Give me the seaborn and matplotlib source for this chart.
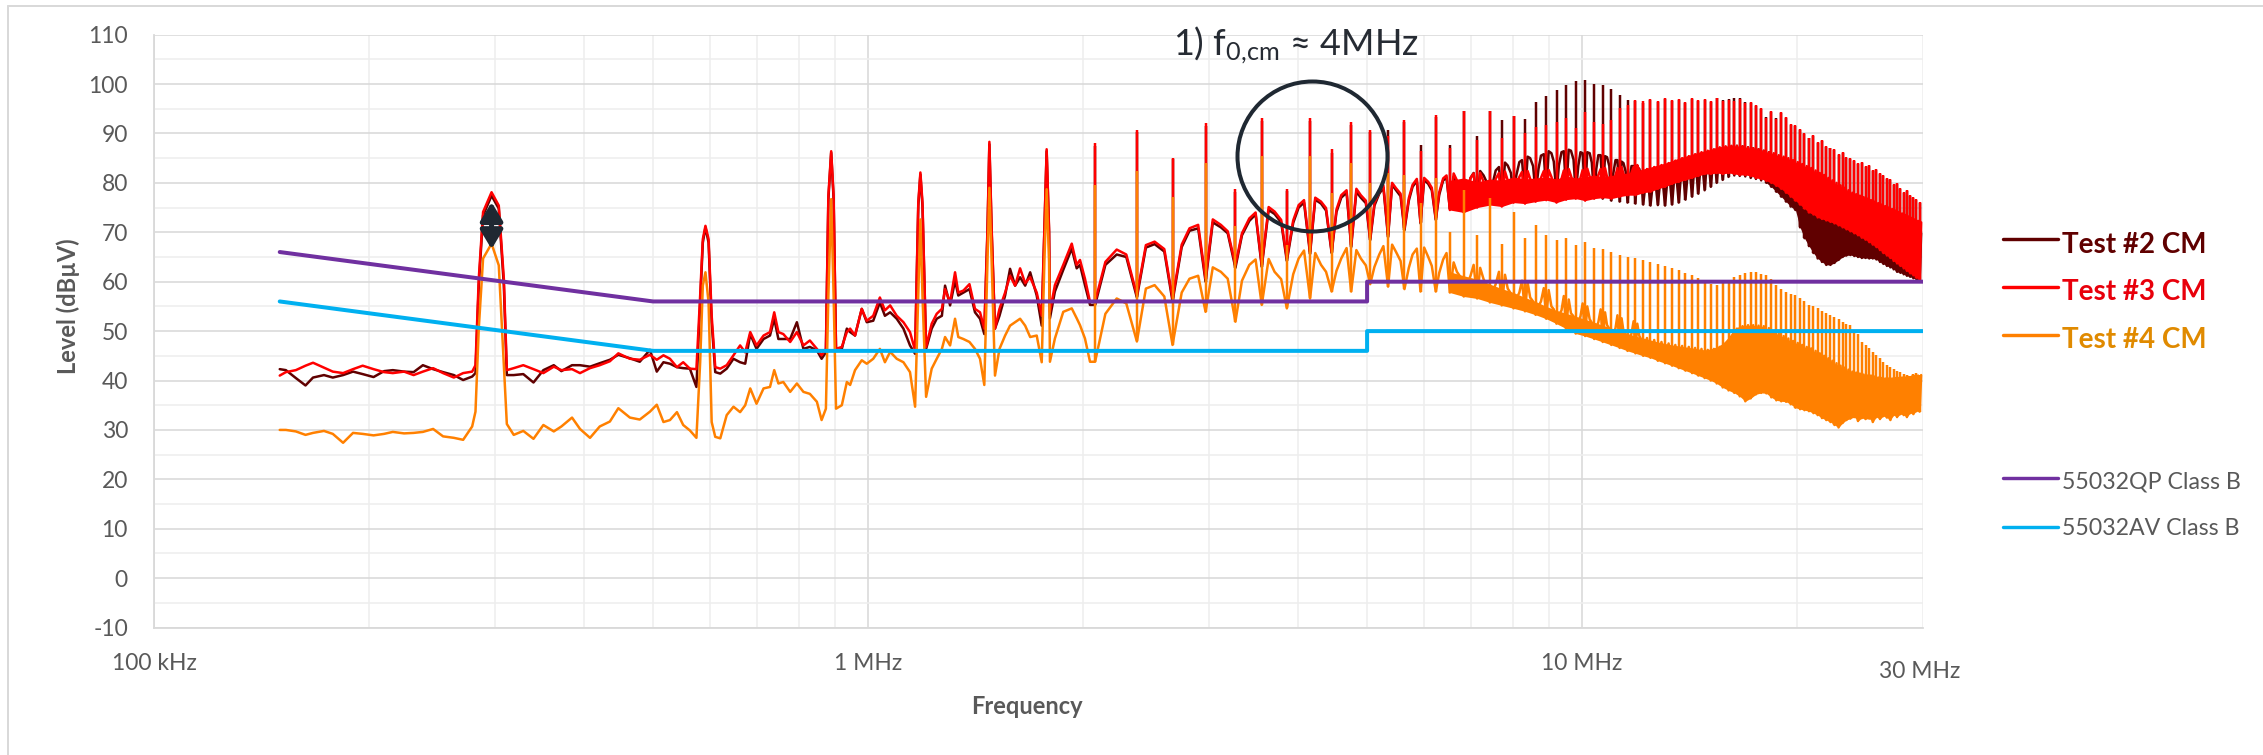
import numpy as np
import pandas as pd
import matplotlib
matplotlib.use("Agg")
import matplotlib.pyplot as plt
import seaborn as sns
from matplotlib.lines import Line2D
from matplotlib.ticker import FixedLocator, MultipleLocator, NullFormatter

# ------------------------------------------------------------------ data
# low-frequency part of the measured spectra (MHz, dBuV)
lf_freq = [0.150, 0.153, 0.158, 0.163, 0.167, 0.173, 0.178, 0.184, 0.190, 0.196,
           0.203, 0.210, 0.216, 0.224, 0.231, 0.238, 0.246, 0.254, 0.263, 0.271,
           0.279, 0.282, 0.285, 0.289, 0.297, 0.304, 0.309, 0.312, 0.319, 0.329,
           0.340, 0.351, 0.363, 0.372, 0.385, 0.395, 0.408, 0.421, 0.435, 0.447,
           0.464, 0.479, 0.495, 0.506,
           0.517, 0.528, 0.540, 0.551, 0.563, 0.575,
           0.582, 0.587, 0.592, 0.598, 0.604, 0.611,
           0.621, 0.634, 0.648, 0.662, 0.673, 0.684,
           0.698, 0.714, 0.729, 0.739, 0.749, 0.761,
           0.778, 0.795, 0.812, 0.829, 0.848, 0.861,
           0.873, 0.880, 0.888, 0.895, 0.902, 0.919,
           0.934, 0.944, 0.959, 0.980, 0.996, 1.017,
           1.039, 1.056, 1.074, 1.097, 1.121, 1.145,
           1.164, 1.176, 1.184, 1.192, 1.206, 1.228,
           1.248, 1.269, 1.282, 1.303, 1.324, 1.338,
           1.360, 1.387, 1.412, 1.435, 1.455, 1.470,
           1.479, 1.490, 1.506, 1.528, 1.556, 1.581,
           1.607, 1.633, 1.660, 1.687, 1.723, 1.751,
           1.766, 1.779, 1.793,
           1.798, 1.827, 1.877, 1.929, 1.960, 1.981, 2.013, 2.046]

t2_lf = [42.3, 42.1, 40.5, 39.0, 40.6, 41.1, 40.6, 41.1, 41.8, 41.3,
         40.7, 41.9, 42.1, 41.8, 41.7, 43.1, 42.3, 41.7, 41.1, 40.1,
         40.8, 41.5, 59.3, 73.4, 77.4, 74.8, 59.3, 41.1, 41.1, 41.3,
         39.6, 42.1, 43.1, 41.9, 43.1, 43.1, 42.8, 43.5, 44.2, 45.2,
         44.5, 43.8, 46.2, 41.8,
         43.7, 43.4, 42.7, 42.5, 42.4, 38.7,
         55.8, 67.9, 71.0, 67.9, 51.8, 41.7,
         41.4, 42.4, 44.4, 43.7, 43.4, 49.4,
         46.4, 48.4, 49.1, 52.5, 48.4, 48.4,
         48.4, 51.8, 46.4, 46.8, 46.1, 44.4,
         45.7, 76.7, 86.1, 76.7, 46.1, 46.4,
         50.5, 49.8, 49.1, 54.5, 51.8, 52.1,
         55.8, 53.1, 53.8, 52.5, 50.5, 47.1,
         45.4, 75.3, 81.7, 75.3, 46.4, 50.5,
         52.5, 53.1, 59.2, 55.2, 60.2, 57.2,
         57.8, 58.5, 53.8, 52.5, 49.4, 69.9,
         87.8, 69.9, 50.5, 53.1, 57.2, 62.6,
         59.2, 60.9, 59.2, 61.9, 57.2, 51.1,
         69.9, 86.4, 69.9,
         52.6, 58.0, 62.4, 66.7, 62.7, 63.4, 59.3, 55.3]

t3_lf = [41.0, 41.7, 42.1, 43.0, 43.6, 42.6, 41.8, 41.5, 42.3, 43.0,
         42.3, 41.7, 41.5, 41.8, 41.1, 41.8, 42.5, 41.5, 40.6, 41.5,
         41.8, 43.1, 60.6, 74.1, 78.1, 75.4, 60.6, 42.1, 42.5, 43.1,
         42.3, 41.5, 42.8, 42.1, 42.3, 41.5, 42.5, 43.1, 43.9, 45.5,
         44.4, 44.2, 45.2, 44.2,
         45.1, 44.4, 42.7, 43.7, 42.4, 42.3,
         57.2, 68.6, 71.3, 68.6, 53.1, 42.7,
         42.4, 43.1, 45.1, 47.1, 45.7, 49.8,
         47.1, 49.1, 49.8, 53.8, 49.8, 49.4,
         47.8, 49.8, 47.1, 48.1, 46.4, 45.1,
         46.4, 77.4, 86.4, 77.4, 46.4, 46.8,
         49.8, 50.5, 49.1, 54.5, 52.1, 53.1,
         56.8, 54.2, 55.2, 53.1, 51.8, 49.8,
         46.1, 76.0, 82.1, 76.0, 46.8, 51.5,
         53.5, 54.5, 58.5, 55.8, 61.9, 57.8,
         58.2, 59.5, 54.5, 53.8, 50.5, 70.6,
         88.3, 70.6, 50.5, 54.5, 57.8, 61.2,
         59.2, 62.7, 59.7, 60.9, 57.8, 53.1,
         70.6, 86.8, 70.6,
         53.9, 59.3, 63.4, 67.7, 63.4, 64.4, 60.6, 55.9]

t4_lf = [30.0, 30.0, 29.7, 29.0, 29.4, 29.8, 29.2, 27.4, 29.4, 29.2,
         28.9, 29.2, 29.6, 29.3, 29.4, 29.6, 30.2, 28.7, 28.4, 28.0,
         30.7, 33.7, 50.5, 64.7, 67.7, 63.3, 43.1, 31.2, 29.0, 29.8,
         28.2, 31.0, 29.7, 30.7, 32.5, 30.2, 28.4, 30.7, 31.7, 34.4,
         32.5, 32.1, 33.7, 35.1,
         31.6, 32.0, 33.6, 31.0, 29.9, 28.4,
         43.7, 59.2, 61.9, 55.8, 31.6, 28.6,
         28.3, 33.0, 34.7, 33.6, 35.0, 38.4,
         35.3, 38.4, 38.7, 42.1, 39.4, 39.7,
         37.7, 39.4, 37.7, 37.3, 35.7, 32.0,
         34.3, 57.2, 76.7, 57.2, 34.3, 35.0,
         39.7, 39.1, 42.1, 44.1, 43.4, 44.4,
         46.4, 43.7, 45.8, 44.4, 43.7, 41.7,
         34.7, 57.2, 72.6, 57.2, 36.7, 42.4,
         44.4, 46.4, 48.8, 47.1, 52.5, 48.8,
         48.4, 47.8, 46.4, 44.4, 39.1, 63.9,
         79.0, 63.9, 41.0, 46.4, 49.1, 51.1,
         51.8, 52.5, 51.1, 48.8, 49.1, 43.7,
         63.9, 78.7, 63.9,
         43.8, 48.5, 53.9, 54.6, 52.6, 51.2, 48.5, 43.8]

# harmonic comb (switching harmonics, MHz) and the points between them
comb_freq = [2.08, 2.38, 2.67, 2.97, 3.27, 3.56, 3.86, 4.16, 4.46, 4.75,
             5.05, 5.35, 5.64, 5.94, 6.24, 6.53, 6.83, 7.13, 7.43, 7.72,
             8.02, 8.32, 8.61, 8.91, 9.21, 9.50, 9.80, 10.10, 10.40, 10.69,
             10.99, 11.29, 11.58, 11.88, 12.18, 12.47, 12.77, 13.07, 13.37, 13.66,
             13.96, 14.26, 14.55, 14.85, 15.15, 15.44, 15.74, 16.04, 16.34, 16.63,
             16.93, 17.23, 17.52, 17.82, 18.12, 18.41, 18.71, 19.01, 19.31, 19.60,
             19.90, 20.20, 20.49, 20.79, 21.09, 21.38, 21.68, 21.98, 22.28, 22.57,
             22.87, 23.17, 23.46, 23.76, 24.06, 24.35, 24.65, 24.95, 25.25, 25.54,
             25.84, 26.14, 26.43, 26.73, 27.03, 27.32, 27.62, 27.92, 28.22, 28.51,
             28.81, 29.11, 29.40, 29.70]
mid_freq = [2.23, 2.52, 2.82, 3.12, 3.42, 3.71, 4.01, 4.31, 4.60, 4.90,
            5.20, 5.49, 5.79, 6.09, 6.39, 6.68, 6.98, 7.28, 7.57, 7.87,
            8.17, 8.46, 8.76, 9.06, 9.36, 9.65, 9.95, 10.25, 10.54, 10.84,
            11.14, 11.43, 11.73, 12.03, 12.33, 12.62, 12.92, 13.22, 13.51, 13.81,
            14.11, 14.40, 14.70, 15.00, 15.30, 15.59, 15.89, 16.19, 16.48, 16.78,
            17.08, 17.37, 17.67, 17.97, 18.27, 18.56, 18.86, 19.16, 19.45, 19.75,
            20.05, 20.34, 20.64, 20.94, 21.24, 21.53, 21.83, 22.13, 22.42, 22.72,
            23.02, 23.31, 23.61, 23.91, 24.21, 24.50, 24.80, 25.10, 25.39, 25.69,
            25.99, 26.28, 26.58, 26.88, 27.18, 27.47, 27.77, 28.07, 28.36, 28.66,
            28.96, 29.25, 29.55, 29.85]
# extra noise points inside the wider gaps (2 - 12 MHz)
q1_freq = [2.15, 2.45, 2.75, 3.04, 3.34, 3.64, 3.94, 4.23, 4.53, 4.83,
           5.12, 5.42, 5.72, 6.01, 6.31, 6.61, 6.91, 7.20, 7.50, 7.80,
           8.09, 8.39, 8.69, 8.98, 9.28, 9.58, 9.88, 10.17, 10.47, 10.77,
           11.06, 11.36, 11.66, 11.95]
q3_freq = [2.30, 2.60, 2.90, 3.19, 3.49, 3.79, 4.08, 4.38, 4.68, 4.98,
           5.27, 5.57, 5.87, 6.16, 6.46, 6.76, 7.05, 7.35, 7.65, 7.95,
           8.24, 8.54, 8.84, 9.13, 9.43, 9.73, 10.02, 10.32, 10.62, 10.92,
           11.21, 11.51, 11.81, 12.10]

t2_peak = [87.5, 90.2, 84.8, 91.6, 78.2, 92.6, 78.3, 92.6, 86.0, 91.8,
           90.2, 90.7, 92.3, 87.7, 93.3, 87.7, 94.5, 89.5, 94.5, 92.7,
           93.6, 93.0, 96.4, 97.6, 98.8, 99.8, 100.6, 100.8, 100.1, 99.9,
           99.0, 97.8, 96.8, 96.5, 96.2, 96.8, 96.4, 97.0, 96.6, 96.8,
           96.2, 97.0, 96.6, 96.8, 96.4, 97.2, 96.8, 97.0, 97.1, 97.2,
           96.4, 96.2, 95.6, 95.0, 93.4, 94.4, 93.2, 94.2, 93.2, 91.8,
           91.6, 90.6, 89.8, 89.0, 89.4, 88.0, 88.4, 87.2, 87.0, 86.6,
           85.6, 86.0, 85.0, 84.8, 84.4, 83.8, 84.0, 83.2, 83.4, 82.4,
           82.6, 81.8, 81.4, 80.7, 80.6, 79.6, 79.7, 78.8, 78.0, 78.3,
           77.4, 77.0, 76.6, 76.0]
t2_base = [55.3, 56.8, 56.0, 60.0, 62.8, 63.0, 64.2, 65.6, 65.8, 67.0,
           68.4, 69.0, 70.4, 71.8, 72.5, 74.8, 74.5, 75.5, 76.0, 76.2,
           77.0, 77.4, 77.8, 78.0, 77.6, 78.0, 77.8, 77.4, 77.2, 76.8,
           76.4, 76.2, 76.0, 75.8, 75.6, 75.4, 75.5, 75.4, 75.6, 76.0,
           76.6, 77.2, 77.8, 78.5, 79.2, 80.0, 80.6, 81.2, 81.5, 81.4,
           81.3, 81.0, 80.8, 80.5, 80.0, 79.2, 78.2, 77.2, 76.2, 75.2,
           74.5, 71.0, 68.8, 67.2, 65.8, 64.7, 64.0, 63.4, 63.4, 63.8,
           64.4, 65.0, 65.3, 65.4, 65.2, 65.0, 64.8, 64.8, 64.7, 64.7,
           64.5, 64.0, 63.6, 63.2, 62.9, 62.5, 62.0, 61.8, 61.5, 61.2,
           61.0, 60.7, 60.5, 60.3]
t2_mid = [65.5, 67.6, 70.3, 71.0, 72.3, 73.7, 75.0, 75.8, 77.0, 77.0,
          77.8, 78.5, 79.2, 79.8, 80.5, 80.0, 81.0, 81.5, 82.5, 83.5,
          84.2, 85.0, 85.5, 86.0, 86.2, 86.5, 86.2, 86.0, 85.6, 85.2,
          84.6, 84.0, 83.4, 82.8, 82.4, 82.6, 83.0, 83.4, 83.8, 84.4,
          84.8, 85.4, 85.8, 86.2, 86.6, 87.0, 87.2, 87.4, 87.5, 87.4,
          87.2, 87.0, 86.8, 86.5, 86.2, 85.8, 85.4, 85.0, 84.6, 84.0,
          83.4, 82.6, 81.6, 80.8, 80.0, 79.4, 78.8, 78.3, 77.8, 77.4,
          77.0, 76.6, 76.2, 75.8, 75.5, 75.2, 74.9, 74.6, 74.3, 74.0,
          73.7, 73.4, 73.1, 72.8, 72.5, 72.2, 71.9, 71.6, 71.3, 71.0,
          70.7, 70.4, 70.1, 69.8]
t2_q1 = [63.4, 66.9, 67.0, 72.0, 69.4, 74.5, 71.9, 76.6, 74.1, 78.2,
         75.4, 79.6, 76.4, 80.6, 77.6, 81.2, 78.6, 82.4, 80.0, 84.1,
         81.5, 85.3, 82.8, 86.4, 83.5, 86.7, 83.4, 86.2, 82.8, 85.4,
         81.9, 84.3, 80.7, 83.2]
t2_q3 = [65.0, 66.1, 70.8, 69.8, 73.6, 72.0, 76.0, 74.4, 78.0, 75.9,
         79.0, 77.3, 80.4, 78.5, 81.0, 78.6, 82.0, 80.2, 83.2, 82.0,
         84.6, 83.4, 85.8, 84.3, 86.4, 84.7, 86.0, 84.1, 85.6, 83.4,
         84.6, 82.3, 83.4, 81.2]

t3_peak = [88.0, 90.7, 85.0, 92.2, 78.8, 93.2, 78.8, 93.2, 86.8, 92.3,
           90.7, 89.5, 92.8, 86.5, 93.8, 87.0, 94.5, 88.7, 94.5, 89.0,
           93.6, 90.0, 91.4, 91.7, 92.4, 93.1, 91.0, 94.4, 92.4, 92.0,
           92.7, 95.1, 95.8, 96.8, 96.5, 97.0, 96.6, 97.2, 96.8, 97.0,
           96.4, 97.2, 96.8, 96.9, 96.5, 97.1, 96.6, 96.8, 96.5, 96.9,
           96.2, 96.4, 95.8, 95.1, 93.1, 94.6, 93.0, 94.4, 93.4, 92.0,
           91.7, 90.8, 90.0, 89.0, 89.6, 88.2, 88.6, 87.4, 87.0, 86.8,
           85.8, 86.2, 85.2, 85.0, 84.6, 84.0, 84.2, 83.4, 83.6, 82.6,
           82.8, 82.0, 81.6, 80.9, 80.8, 79.8, 79.9, 79.0, 78.2, 78.5,
           77.6, 77.2, 76.8, 76.2]
t3_base = [56.0, 57.3, 56.6, 60.6, 63.4, 63.4, 64.7, 66.1, 66.1, 67.4,
           68.8, 69.4, 70.8, 72.1, 72.8, 74.5, 74.0, 75.0, 75.5, 75.2,
           76.0, 75.8, 76.2, 76.5, 76.0, 76.6, 76.8, 76.4, 76.8, 77.0,
           76.8, 77.2, 77.5, 77.5, 78.0, 78.2, 78.8, 79.2, 79.8, 80.2,
           80.6, 81.0, 81.4, 81.8, 81.8, 82.0, 81.8, 82.0, 81.8, 81.6,
           81.6, 81.4, 81.0, 80.8, 80.4, 80.0, 79.4, 78.8, 78.0, 77.2,
           76.4, 75.6, 74.8, 74.0, 73.6, 73.0, 72.7, 72.4, 72.1, 71.8,
           71.4, 71.0, 70.6, 70.2, 69.8, 69.4, 68.9, 68.5, 68.0, 67.5,
           67.0, 66.4, 65.8, 65.3, 64.8, 64.2, 63.7, 63.2, 62.7, 62.2,
           61.7, 61.3, 60.8, 60.4]
t3_mid = [66.5, 68.1, 70.8, 71.5, 72.8, 74.2, 75.5, 76.2, 77.5, 77.5,
          78.2, 78.9, 79.6, 80.2, 80.9, 80.5, 81.0, 80.2, 80.8, 80.5,
          81.2, 80.8, 81.0, 81.2, 80.8, 81.4, 81.0, 81.2, 81.6, 81.2,
          81.5, 81.8, 82.0, 82.4, 82.8, 83.2, 83.6, 84.0, 84.5, 85.0,
          85.4, 85.8, 86.2, 86.5, 86.8, 87.2, 87.4, 87.5, 87.5, 87.4,
          87.2, 87.0, 86.8, 86.5, 86.2, 86.0, 85.6, 85.3, 85.0, 84.6,
          84.2, 83.8, 83.4, 83.0, 82.5, 82.0, 81.6, 81.0, 80.5, 80.0,
          79.5, 79.0, 78.5, 78.0, 77.7, 77.4, 77.1, 76.8, 76.5, 76.2,
          75.9, 75.6, 75.3, 75.0, 74.7, 74.4, 74.1, 73.8, 73.5, 73.2,
          72.9, 72.6, 72.3, 72.0]
t3_q1 = [64.0, 67.4, 67.5, 72.6, 69.8, 75.1, 72.4, 77.0, 74.6, 78.8,
         75.9, 80.0, 76.9, 81.0, 78.1, 81.9, 78.2, 82.0, 78.3, 82.3,
         78.6, 82.4, 78.7, 82.6, 78.9, 82.8, 79.1, 82.9, 79.2, 83.0,
         79.5, 83.2, 79.8, 83.6]
t3_q3 = [65.5, 66.6, 71.5, 70.2, 74.0, 72.5, 76.5, 74.9, 78.5, 76.4,
         79.5, 77.8, 80.8, 79.0, 81.5, 79.2, 81.9, 79.1, 82.0, 79.3,
         82.2, 79.4, 82.4, 79.6, 82.5, 79.7, 82.6, 79.8, 82.8, 80.0,
         83.0, 80.5, 83.2, 80.9]

t4_peak = [79.6, 82.3, 77.2, 84.0, 71.3, 85.4, 67.4, 85.5, 78.0, 84.0,
           80.0, 82.0, 81.5, 76.0, 81.0, 70.1, 78.5, 69.4, 76.9, 67.7,
           74.2, 68.8, 71.5, 69.4, 68.4, 68.8, 67.4, 68.1, 66.9, 66.7,
           66.1, 65.4, 65.0, 64.7, 64.3, 64.0, 63.6, 63.2, 62.7, 62.3,
           61.8, 61.3, 60.7, 60.0, 59.6, 59.3, 59.8, 60.4, 61.0, 61.4,
           61.7, 61.9, 62.0, 61.6, 61.3, 60.6, 59.3, 58.6, 57.9, 57.6,
           57.3, 56.6, 56.0, 55.3, 55.0, 54.6, 54.1, 53.6, 53.2, 52.8,
           52.4, 51.9, 51.5, 51.2, 50.3, 49.4, 47.8, 47.2, 46.5, 45.8,
           45.2, 44.5, 43.8, 43.1, 42.8, 42.4, 42.0, 41.7, 41.4, 41.2,
           41.0, 41.3, 41.5, 41.1]
t4_base = [43.8, 47.9, 47.2, 53.9, 51.9, 55.3, 54.6, 56.6, 58.0, 58.0,
           59.5, 59.0, 58.5, 58.0, 58.0, 57.8, 57.0, 56.6, 55.8, 55.2,
           54.6, 54.0, 53.3, 52.5, 51.5, 50.5, 49.5, 49.0, 48.4, 47.8,
           47.2, 46.6, 46.0, 45.5, 45.0, 44.6, 44.0, 43.5, 43.0, 42.5,
           42.0, 41.5, 41.0, 40.5, 40.0, 39.4, 38.6, 38.0, 37.5, 36.8,
           35.8, 36.4, 37.2, 37.5, 37.4, 36.6, 36.0, 35.8, 35.7, 35.2,
           34.5, 34.2, 34.0, 33.8, 33.4, 33.0, 32.4, 32.0, 31.6, 31.0,
           30.5, 31.4, 32.0, 32.3, 32.6, 31.8, 32.4, 32.2, 32.3, 31.6,
           32.6, 32.2, 32.8, 32.5, 32.0, 33.0, 32.6, 33.2, 33.0, 32.6,
           33.4, 33.2, 33.8, 33.7]
t4_mid = [56.6, 59.3, 60.6, 62.0, 63.4, 62.0, 64.7, 63.4, 64.7, 64.7,
          65.5, 66.0, 65.5, 65.0, 64.5, 62.0, 61.2, 60.5, 59.5, 58.6,
          57.8, 56.8, 56.0, 55.0, 54.2, 53.6, 53.0, 52.4, 51.8, 51.2,
          50.6, 50.0, 49.5, 49.0, 48.6, 48.2, 47.8, 47.5, 47.2, 47.0,
          46.8, 46.6, 46.4, 46.2, 46.4, 46.8, 47.5, 48.8, 50.5, 51.0,
          51.2, 51.2, 51.1, 51.0, 50.6, 50.0, 49.5, 49.0, 48.5, 48.0,
          47.6, 47.2, 46.8, 46.5, 46.0, 45.5, 45.0, 44.5, 44.0, 43.5,
          43.0, 42.6, 42.2, 41.8, 41.6, 41.4, 41.2, 41.0, 41.0, 40.8,
          40.6, 40.5, 40.4, 40.4, 40.4, 40.5, 40.5, 40.6, 40.6, 40.7,
          40.8, 40.9, 41.0, 41.1]
t4_q1 = [53.5, 58.6, 57.8, 62.9, 60.2, 64.6, 61.5, 65.8, 62.2, 66.4,
         63.0, 67.5, 62.8, 66.9, 61.8, 63.9, 59.6, 62.8, 58.0, 61.4,
         56.5, 59.9, 55.0, 58.3, 53.2, 56.4, 51.9, 55.0, 50.6, 53.8,
         49.5, 52.6, 48.4, 51.5]
t4_q3 = [55.6, 57.0, 61.2, 60.6, 64.5, 60.5, 66.3, 62.0, 66.8, 63.3,
         67.2, 64.2, 66.7, 63.2, 65.8, 60.9, 63.4, 59.4, 62.0, 57.6,
         60.2, 56.0, 58.7, 54.4, 57.1, 53.0, 55.6, 51.7, 54.4, 50.5,
         53.2, 49.4, 52.0, 48.3]

# CISPR 32 / EN 55032 class B conducted limits
qp_freq = [0.15, 0.5, 5.0, 5.0, 30.0]
qp_level = [66, 56, 56, 60, 60]
av_freq = [0.15, 0.5, 5.0, 5.0, 30.0]
av_level = [56, 46, 46, 50, 50]

series_names = ["Test #2 CM", "Test #3 CM", "Test #4 CM"]
limit_names = ["55032QP Class B", "55032AV Class B"]
x_tick_values = [0.1, 1, 10]
x_tick_labels = ["100 kHz", "1 MHz", "10 MHz"]
x_end_label = "30 MHz"

# annotation anchors (frequency MHz, level dBuV)
circle_freq, circle_level = 4.18, 85.4
arrow_freq, arrow_top, arrow_bottom = 0.297, 76.1, 66.6

# ------------------------------------------------------------------ style
sns.set_theme(style="white")
plt.rcParams["font.family"] = ["Lato", "DejaVu Sans"]
plt.rcParams["mathtext.fontset"] = "custom"
plt.rcParams["mathtext.rm"] = "Lato"
plt.rcParams["mathtext.it"] = "Lato:italic"
plt.rcParams["mathtext.bf"] = "Lato:bold"
plt.rcParams["axes.unicode_minus"] = False

W, H = 2263, 755
PX = 0.72  # points per pixel at dpi 100
grey_txt = "#595959"
grid_major = "#d9d9d9"
grid_minor = "#eeeeee"
c2, c3, c4 = "#600000", "#FF0000", "#FF8000"
t2_txt, t3_txt, t4_txt = "#600000", "#E8000B", "#E08A00"
cqp, cav = "#7030A0", "#00B0F0"
dark = "#1F2832"

fig = plt.figure(figsize=(W / 100, H / 100), dpi=100)
fig.patch.set_facecolor("white")
L, R, T, B = 154, 1922.7, 34.6, 627.6
ax = fig.add_axes([L / W, 1 - B / H, (R - L) / W, (B - T) / H])
ax.set_xscale("log")
ax.set_xlim(0.1, 30)
ax.set_ylim(-10, 110)

# ------------------------------------------------------------------ spectra
lw_tr = 2.5 * PX
# comb index from which each measured trace becomes a solid band
for lf, base, q1, mid, q3, peak, col, z, solid_from in [
    (t2_lf, t2_base, t2_q1, t2_mid, t2_q3, t2_peak, c2, 3, 54),
    (t3_lf, t3_base, t3_q1, t3_mid, t3_q3, t3_peak, c3, 4, 15),
    (t4_lf, t4_base, t4_q1, t4_mid, t4_q3, t4_peak, c4, 5, 15),
]:
    df = pd.DataFrame({
        "freq": np.concatenate([lf_freq, comb_freq, mid_freq, q1_freq, q3_freq]),
        "level": np.concatenate([lf, base, mid, q1, q3]),
    })
    sns.lineplot(data=df, x="freq", y="level", ax=ax, color=col, lw=lw_tr,
                 estimator=None, sort=True, zorder=z, legend=False)
    ax.vlines(comb_freq, base, peak, colors=col, lw=lw_tr, zorder=z)
    ax.fill_between(comb_freq[solid_from:], base[solid_from:], mid[solid_from:],
                    color=col, lw=0, zorder=z)

sns.lineplot(x=qp_freq, y=qp_level, ax=ax, color=cqp, lw=4 * PX,
             estimator=None, sort=False, zorder=6, legend=False)
sns.lineplot(x=av_freq, y=av_level, ax=ax, color=cav, lw=4 * PX,
             estimator=None, sort=False, zorder=7, legend=False)

# ------------------------------------------------------------------ axes
ax.set_yticks(range(-10, 111, 10))
ax.yaxis.set_minor_locator(MultipleLocator(5))
ax.set_xticks(x_tick_values)
ax.set_xticklabels(x_tick_labels)
minor_x = [m * d for d in (0.1, 1.0) for m in range(2, 10)] + [20, 30]
ax.xaxis.set_minor_locator(FixedLocator(minor_x))
ax.xaxis.set_minor_formatter(NullFormatter())
ax.grid(which="major", color=grid_major, lw=1.6 * PX)
ax.grid(which="minor", color=grid_minor, lw=1.6 * PX)
ax.set_axisbelow(True)
for s in ("top", "right"):
    ax.spines[s].set_visible(False)
for s in ("left", "bottom"):
    ax.spines[s].set_color(grid_major)
    ax.spines[s].set_linewidth(1.8 * PX)
ax.tick_params(axis="y", which="major", length=7.6 * PX, width=1.6 * PX,
               color=grid_major, pad=18.5 * PX, labelsize=16.5, labelcolor=grey_txt)
ax.tick_params(axis="x", which="major", length=10 * PX, width=1.6 * PX,
               color=grid_major, pad=15 * PX, labelsize=16.5, labelcolor=grey_txt)
ax.tick_params(which="minor", length=0)
ax.annotate(x_end_label, xy=(30, -10), xycoords="data", xytext=(-3 * PX, -43.4 * PX),
            textcoords="offset points", ha="center", va="center",
            fontsize=16.5, color=grey_txt, annotation_clip=False)

ax.set_xlabel("Frequency", fontsize=17, fontweight="bold", color=grey_txt)
ax.xaxis.set_label_coords((1026.5 - L) / (R - L), (B - 714) / (B - T))
ax.xaxis.label.set_verticalalignment("baseline")
ax.set_ylabel("Level (dBµV)", fontsize=17, fontweight="bold", color=grey_txt)
ax.yaxis.set_label_coords((76.5 - L) / (R - L), (B - 306) / (B - T))
ax.yaxis.label.set_verticalalignment("baseline")

# ------------------------------------------------------------------ annotations
ax.plot([circle_freq], [circle_level], marker="o", ms=108, mfc="none",
        mec=dark, mew=4 * PX, zorder=9, clip_on=False)
ax.annotate("", xy=(arrow_freq, arrow_top), xytext=(arrow_freq, arrow_bottom),
            arrowprops=dict(arrowstyle="<|-|>,head_length=0.7,head_width=0.42",
                            mutation_scale=16, lw=5 * PX, color=dark,
                            shrinkA=0, shrinkB=0), zorder=9)
fig.text(1173 / W, 1 - 56 / H, "1) f$_{\\mathrm{0{,}cm}}$ \u2248 4MHz", fontsize=26,
         color="#262B33", ha="left", va="baseline")

# ------------------------------------------------------------------ legend
rows = [
    (series_names[0], c2, t2_txt, "bold", 20, 239, 253.3),
    (series_names[1], c3, t3_txt, "bold", 20, 286.7, 300),
    (series_names[2], c4, t4_txt, "bold", 20, 334.7, 348.3),
    (limit_names[0], cqp, grey_txt, "normal", 16.7, 478.3, 488.3),
    (limit_names[1], cav, grey_txt, "normal", 16.7, 526.7, 535),
]
for label, lc, tc, fw, fs, yl, yb in rows:
    fig.add_artist(Line2D([2003 / W, 2058 / W], [1 - yl / H, 1 - yl / H],
                          transform=fig.transFigure, color=lc, lw=3.4 * PX,
                          solid_capstyle="round"))
    fig.text(2062 / W, 1 - yb / H, label, fontsize=fs, fontweight=fw, color=tc,
             ha="left", va="baseline")

# figure border (top and left edges visible)
fig.add_artist(Line2D([8 / W, 1], [1 - 6 / H, 1 - 6 / H], transform=fig.transFigure,
                      color=grid_major, lw=2 * PX))
fig.add_artist(Line2D([8 / W, 8 / W], [0, 1 - 6 / H], transform=fig.transFigure,
                      color=grid_major, lw=2 * PX))

fig.savefig("out.png", dpi=100, facecolor="white")
